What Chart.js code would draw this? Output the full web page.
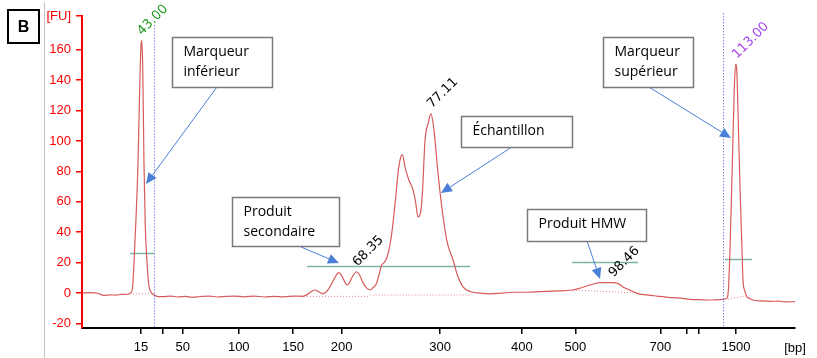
<!DOCTYPE html>
<html><head><meta charset="utf-8">
<script src="https://cdn.jsdelivr.net/npm/chart.js@4.4.1/dist/chart.umd.min.js"></script>
<style>
html,body{margin:0;padding:0;background:#fff;}
#wrap{position:relative;width:817px;height:358px;overflow:hidden;background:#fff;}
#c{position:absolute;left:0;top:0;}
#bbox{position:absolute;left:7px;top:9px;width:29px;height:31px;border:2px solid #000;font:bold 16px "Liberation Sans",Arial,sans-serif;text-align:center;line-height:31px;color:#000;}
#vline{position:absolute;left:44px;top:2px;width:1px;height:356px;background:#c4c4c4;}
</style></head><body>
<div id="wrap"><canvas id="c" width="817" height="358"></canvas><div id="vline"></div><div id="bbox">B</div></div>
<script>
// ---- data (migration time in s, fluorescence in FU) ----
const traceTime = [36.06,37.2,38.0,38.6,39.3,40.0,40.7,41.4,41.8,42.0,42.18,42.42,42.65,42.85,43.0,43.08,43.2,43.35,43.5,43.71,43.9,44.1,44.35,44.8,45.5,46.5,47.3,48.2,49.0,50.0,51.0,52.0,53.0,54.0,55.2,56.3,57.5,58.7,59.8,61.0,62.0,62.5,63.0,63.47,63.9,64.4,65.0,65.5,66.0,66.29,66.6,67.0,67.24,67.5,67.9,68.35,68.7,69.1,69.5,69.94,70.3,70.73,71.0,71.32,71.6,71.91,72.3,72.65,73.0,73.24,73.5,73.74,74.06,74.3,74.53,75.0,75.3,75.59,75.85,76.1,76.41,76.8,77.11,77.45,77.94,78.38,78.96,79.71,80.29,80.88,81.71,82.88,84.06,85.5,87.0,88.5,89.94,91.5,92.8,93.82,94.8,95.82,97.0,98.46,99.2,99.71,100.5,101.35,102.5,103.71,105.0,106.3,107.59,108.8,109.94,111.0,111.47,111.94,112.1,112.29,112.45,112.61,112.8,112.96,113.1,113.35,113.55,113.71,113.82,114.0,114.26,114.6,115.0,116.0,117.0,118.0,118.8,119.94];
const traceFU   = [0.0,0.3,-0.3,-1.5,-1.2,-1.4,-0.9,-0.8,0.2,3,20,50,86,135,163,166,150,86,45,20,6,1.5,-0.5,-2.0,-2.4,-2.0,-2.6,-2.2,-2.8,-2.3,-2.0,-2.6,-2.2,-2.0,-2.5,-2.0,-2.6,-2.2,-2.5,-2.0,-2.2,-1.2,0.8,2.0,0.8,-0.5,2,7,12,13.4,11.5,7,5.3,6.5,11,14,12,7,3.5,2,3.5,6.6,12,18.4,20,23,32,46,65,79,88,91,83,78,74,68,60,50,52,65,100,112,118,108,79,57,35,21.7,10.7,4,1,0,-0.5,0,0.5,0.5,0.9,1.3,1.6,2,3.5,5.3,6.8,6.9,6,4,2,-0.2,-1.2,-2,-2.8,-3.2,-4.2,-4.4,-4.6,-4.3,-4.2,-3.3,2,28,60,94,135,150.6,145,94,55,28,8.5,2,-2.4,-3.5,-4.6,-5.2,-5.5,-5.3,-5.8,-5.7];
const ladderTime  = [43.0,45.6,47.9,54.5,60.9,66.6,78.2,87.8,94.1,104.1,107.2,108.6,113.0];
const ladderLabel = ['15','','50','100','150','200','300','400','500','700','','','1500'];
const yTickValues = [-20,0,20,40,60,80,100,120,140,160];
const peakTime  = [43.00,68.35,77.11,98.46,113.00];
const peakFU    = [166,14,118,6.9,150.6];
const peakLabel = ['43.00','68.35','77.11','98.46','113.00'];
const peakColor = ['#1e9a1e','#000000','#000000','#000000','#a040f0'];

const X_MIN = 36.06, X_MAX = 119.94, Y_MIN = -23.0, Y_MAX = 182.2;
const AXIS_FONT = '"Liberation Sans", Arial, sans-serif';

// ---- annotation layout (in data units) ----
const boxes = [
  {t0:46.65,t1:58.41,f0:168.4,f1:135.5,lines:['Marqueur','inférieur']},
  {t0:80.65,t1:93.71,f0:116.4,f1:96.1,lines:['Échantillon']},
  {t0:53.71,t1:66.29,f0:63.2,f1:30.9,lines:['Produit','secondaire']},
  {t0:88.41,t1:102.41,f0:55.3,f1:34.2,lines:['Produit HMW']},
  {t0:97.35,t1:107.94,f0:168.4,f1:135.5,lines:['Marqueur','supérieur']}
];
const arrows = [
  {t0:51.94,f0:135.5,t1:43.59,f1:71.7},
  {t0:86.65,f0:96.1,t1:78.29,f1:65.8},
  {t0:61.82,f0:30.3,t1:66.29,f1:19.7},
  {t0:95.47,f0:34.2,t1:97.0,f1:9.2},
  {t0:102.76,f0:135.5,t1:112.41,f1:102}
];
const widthLines = [
  {t0:41.71,t1:44.53,f:26.5},{t0:62.53,t1:81.71,f:18},{t0:93.71,t1:101.47,f:20.2},{t0:111.71,t1:114.88,f:22.2}
];
const baseLines = [
  {t0:42.06,f0:-0.5,t1:44.29,f1:-0.5},{t0:62.53,f0:-2.2,t1:69.9,f1:-2.2},{t0:69.9,f0:-1.3,t1:81.71,f1:-1.3},
  {t0:93.82,f0:2,t1:101.35,f1:0},{t0:112.06,f0:-4,t1:114.06,f1:-2}
];
const markerLines = [{t:44.53,f:176},{t:111.47,f:184}];

const annot = {
  id:'annot',
  beforeDatasetsDraw(chart){
    const {ctx, scales:{x,y}} = chart;
    ctx.save();
    ctx.strokeStyle='rgba(215,95,95,0.75)'; ctx.lineWidth=1; ctx.setLineDash([1,2]);
    baseLines.forEach(b=>{ctx.beginPath();ctx.moveTo(x.getPixelForValue(b.t0),y.getPixelForValue(b.f0));ctx.lineTo(x.getPixelForValue(b.t1),y.getPixelForValue(b.f1));ctx.stroke();});
    ctx.setLineDash([]);
    ctx.strokeStyle='#7fb3a5'; ctx.lineWidth=1.5;
    widthLines.forEach(w=>{const py=Math.round(y.getPixelForValue(w.f))+0.5;ctx.beginPath();ctx.moveTo(x.getPixelForValue(w.t0),py);ctx.lineTo(x.getPixelForValue(w.t1),py);ctx.stroke();});
    ctx.restore();
  },
  afterDatasetsDraw(chart){
    const {ctx, scales:{x,y}, chartArea} = chart;
    ctx.save();
    ctx.strokeStyle='#4b4be6'; ctx.lineWidth=1; ctx.setLineDash([1,2]);
    markerLines.forEach(m=>{const px=Math.round(x.getPixelForValue(m.t))+0.5;ctx.beginPath();ctx.moveTo(px,y.getPixelForValue(m.f));ctx.lineTo(px,chartArea.bottom);ctx.stroke();});
    ctx.setLineDash([]);
    ctx.font='13px "DejaVu Sans", sans-serif'; ctx.textAlign='left'; ctx.textBaseline='alphabetic';
    peakTime.forEach((t,i)=>{
      const px=x.getPixelForValue(t)+1, py=y.getPixelForValue(peakFU[i])-5;
      ctx.save(); ctx.translate(px,py); ctx.rotate(-Math.PI/4); ctx.fillStyle=peakColor[i]; ctx.fillText(peakLabel[i],0,0); ctx.restore();
    });
    ctx.strokeStyle='#4a7fd6'; ctx.fillStyle='#4a7fd6'; ctx.lineWidth=1;
    arrows.forEach(a=>{
      const x0=x.getPixelForValue(a.t0), y0=y.getPixelForValue(a.f0), x1=x.getPixelForValue(a.t1), y1=y.getPixelForValue(a.f1);
      const ang=Math.atan2(y1-y0,x1-x0), L=11, W=5;
      const bx=x1-L*Math.cos(ang), by=y1-L*Math.sin(ang);
      ctx.beginPath(); ctx.moveTo(x0,y0); ctx.lineTo(bx,by); ctx.stroke();
      ctx.beginPath(); ctx.moveTo(x1,y1);
      ctx.lineTo(bx+W*Math.sin(ang), by-W*Math.cos(ang));
      ctx.lineTo(bx-W*Math.sin(ang), by+W*Math.cos(ang));
      ctx.closePath(); ctx.fill();
    });
    boxes.forEach(b=>{
      const bx0=Math.round(x.getPixelForValue(b.t0))+0.5, bx1=Math.round(x.getPixelForValue(b.t1))+0.5;
      const by0=Math.round(y.getPixelForValue(b.f0))+0.5, by1=Math.round(y.getPixelForValue(b.f1))+0.5;
      ctx.fillStyle='#fff'; ctx.fillRect(bx0,by0,bx1-bx0,by1-by0);
      ctx.strokeStyle='#7a7a7a'; ctx.lineWidth=1.5; ctx.strokeRect(bx0,by0,bx1-bx0,by1-by0);
      ctx.fillStyle='#000'; ctx.font='14px "Open Sans", sans-serif'; ctx.textAlign='left'; ctx.textBaseline='middle';
      b.lines.forEach((s,i)=>ctx.fillText(s,bx0+11,by0+15+20*i));
    });
    ctx.fillStyle='#000'; ctx.font='13px '+AXIS_FONT; ctx.textAlign='center'; ctx.textBaseline='middle';
    ctx.fillText('[bp]', chartArea.right, 348);
    ctx.restore();
  }
};

new Chart(document.getElementById('c'), {
  type:'line',
  data:{datasets:[{
    data: traceTime.map((t,i)=>({x:t,y:traceFU[i]})),
    borderColor:'#d85a5a', borderWidth:1.2, pointRadius:0, fill:false,
    cubicInterpolationMode:'monotone'
  }]},
  options:{
    responsive:false, animation:false, devicePixelRatio:1,
    layout:{padding:{top:16,right:22,left:0,bottom:0}},
    plugins:{legend:{display:false},tooltip:{enabled:false}},
    scales:{
      x:{type:'linear',min:X_MIN,max:X_MAX,
        afterBuildTicks:s=>{s.ticks=ladderTime.map(v=>({value:v}));},
        afterFit:s=>{s.height=30;},
        grid:{drawOnChartArea:false,drawTicks:true,tickLength:6,color:'#000',lineWidth:1.5},
        border:{display:true,color:'#000',width:2},
        ticks:{autoSkip:false,maxRotation:0,padding:6,color:'#000',font:{family:AXIS_FONT,size:13},
          callback:(v,i)=>ladderLabel[i]}
      },
      y:{type:'linear',min:Y_MIN,max:Y_MAX,
        afterBuildTicks:s=>{s.ticks=yTickValues.concat([Y_MAX]).map(v=>({value:v}));},
        afterFit:s=>{s.width=82;},
        grid:{drawOnChartArea:false,drawTicks:true,tickLength:6,color:'#ff0000',lineWidth:1.5},
        border:{display:true,color:'#ff0000',width:2},
        ticks:{padding:5,color:'#ff0000',font:{family:AXIS_FONT,size:13},
          callback:(v)=>v===Y_MAX?'[FU]':String(v)}
      }
    }
  },
  plugins:[annot]
});
</script>
</body></html>
